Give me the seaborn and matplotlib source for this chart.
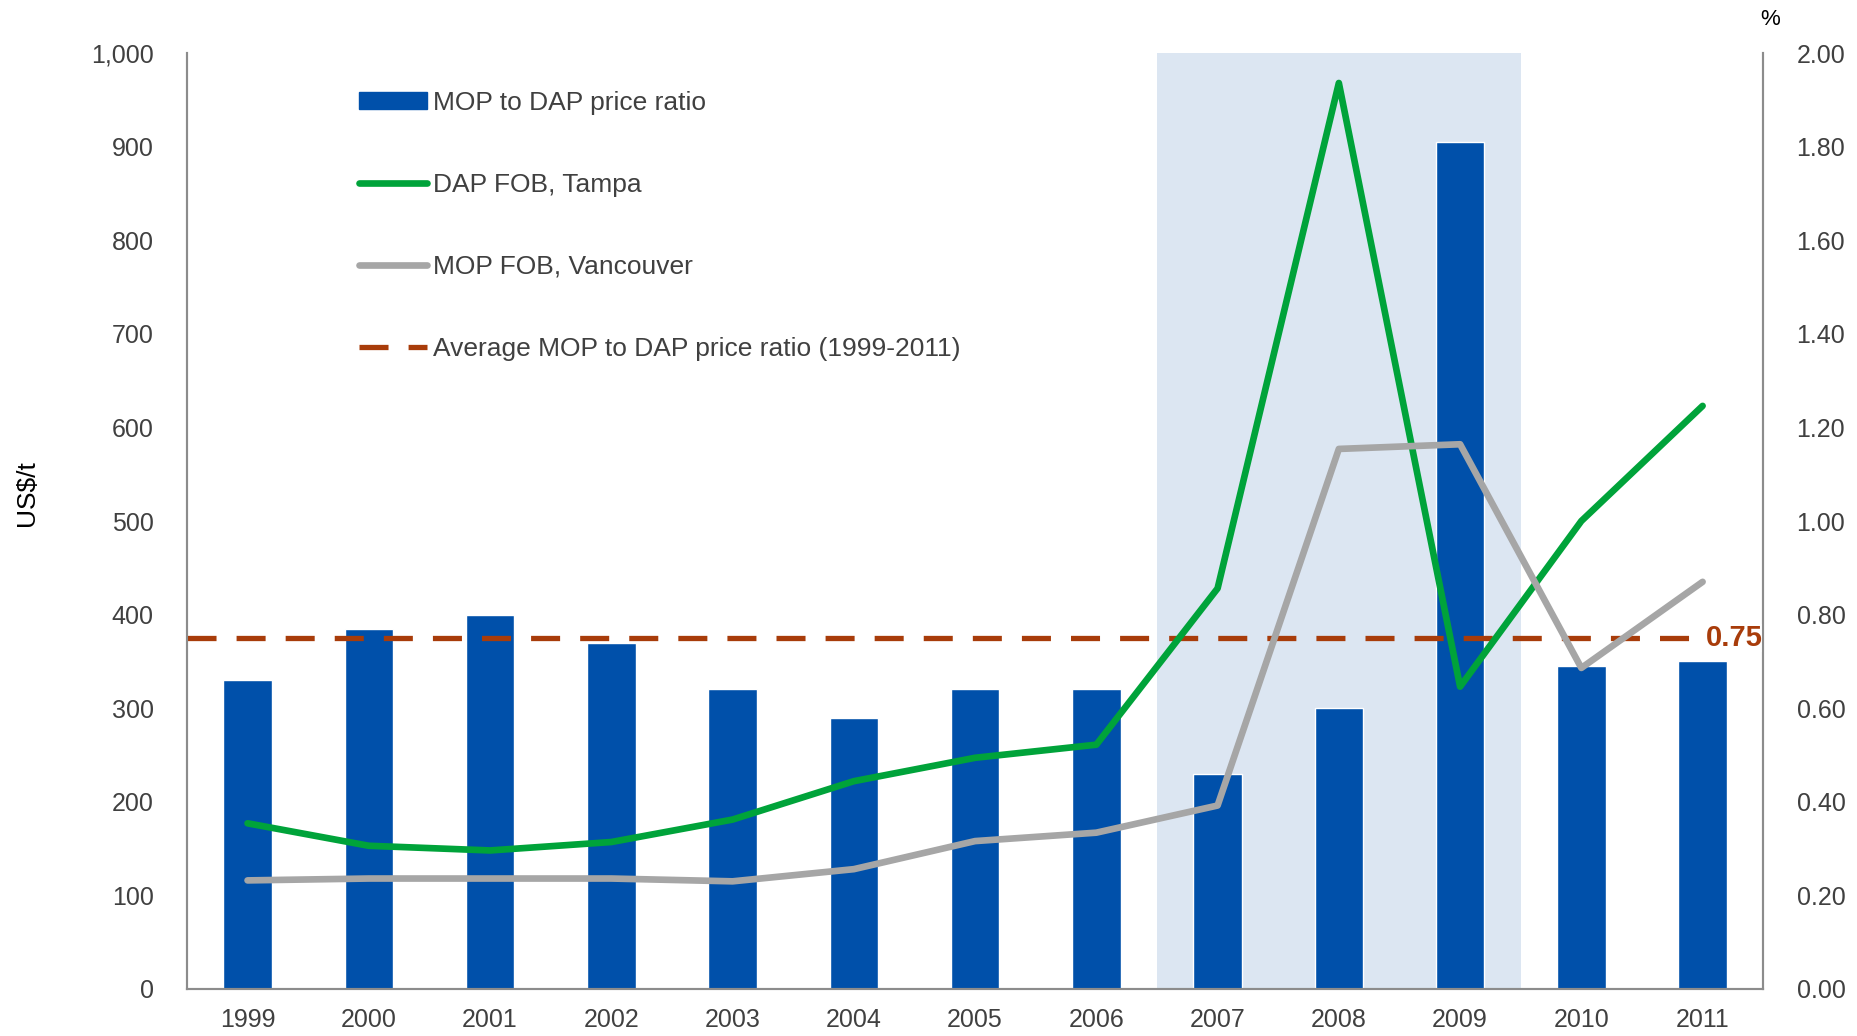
import numpy as np
import pandas as pd
import seaborn as sns
import matplotlib.pyplot as plt
from matplotlib.patches import Patch
from matplotlib.lines import Line2D

# data
years = ["1999", "2000", "2001", "2002", "2003", "2004", "2005",
         "2006", "2007", "2008", "2009", "2010", "2011"]
ratio = [0.66, 0.77, 0.80, 0.74, 0.64, 0.58, 0.64, 0.64, 0.46, 0.60, 1.81, 0.69, 0.70]
dap_tampa = [177, 153, 148, 157, 181, 222, 247, 261, 428, 968, 323, 500, 623]
mop_vancouver = [116, 118, 118, 118, 115, 128, 158, 167, 196, 577, 582, 343, 435]
avg_ratio = 0.75
shade_start, shade_end = "2007", "2009"

df = pd.DataFrame({"Year": years, "Ratio": ratio, "DAP": dap_tampa, "MOP": mop_vancouver})
df["pos"] = np.arange(len(df))

sns.set_style("white")
plt.rcParams["font.family"] = ["Liberation Sans", "DejaVu Sans"]

text_col = "#404040"
spine_col = "#8c8c8c"

fig = plt.figure(figsize=(18.58, 10.36), dpi=100)
# ax2 = bars on right axis, ax = lines on left axis (drawn on top)
ax2 = fig.add_axes([0.1006, 0.0454, 0.8484, 0.9034])
ax = ax2.twinx()
ax.yaxis.tick_left()
ax.yaxis.set_label_position("left")
ax2.yaxis.tick_right()
ax2.yaxis.set_label_position("right")
ax.set_zorder(ax2.get_zorder() + 1)
ax.patch.set_visible(False)

# shaded period
i0 = years.index(shade_start) - 0.5
i1 = years.index(shade_end) + 0.5
ax2.axvspan(i0, i1, color="#dce6f2", zorder=0, lw=0)

sns.barplot(data=df, x="Year", y="Ratio", ax=ax2, color="#0050aa",
            width=0.4, saturation=1, zorder=2)
ax2.axhline(avg_ratio, color="#a83c0a", lw=3.8, ls=(0, (5.5, 3.8)), zorder=3)
ax2.text(len(years) - 0.5, avg_ratio, f"{avg_ratio:.2f}", color="#a83c0a",
         fontsize=21, fontweight="bold", ha="right", va="center", zorder=4,
         bbox=dict(facecolor="white", edgecolor="none", pad=0))

sns.lineplot(data=df, x="pos", y="DAP", ax=ax, color="#00a33a", lw=4.8,
             solid_capstyle="round", zorder=5)
sns.lineplot(data=df, x="pos", y="MOP", ax=ax, color="#a6a6a6", lw=4.8,
             solid_capstyle="round", zorder=5)

ax.set_xlim(-0.5, len(years) - 0.5)
ax2.set_xlim(-0.5, len(years) - 0.5)
ax.set_ylim(0, 1000)
ax2.set_ylim(0, 2.0)
ax.set_yticks(range(0, 1001, 100))
ax.set_yticklabels([f"{v:,}" for v in range(0, 1001, 100)])
ax2.set_yticks(np.arange(0, 2.01, 0.2))
ax2.set_yticklabels([f"{v:.2f}" for v in np.arange(0, 2.01, 0.2)])
ax2.set_xticks(range(len(years)))
ax2.set_xticklabels(years)

ax.set_xlabel("")
ax2.set_xlabel("")
ax2.set_ylabel("")
ax.set_ylabel("US$/t", fontsize=19, color="black")
ax.yaxis.set_label_coords(-0.094, 0.53)

for a in (ax, ax2):
    a.spines["top"].set_visible(False)
    for s in ["left", "right", "bottom"]:
        a.spines[s].set_color(spine_col)
        a.spines[s].set_linewidth(1.5)
    a.tick_params(length=0, labelsize=18, colors=text_col)
ax.tick_params(axis="y", pad=24)
ax2.tick_params(axis="y", pad=24)
ax2.tick_params(axis="x", pad=14)
ax.tick_params(axis="x", labelbottom=False)

fig.text(0.9525, 0.981, "%", fontsize=16, color="black", ha="center", va="center")

handles = [
    Patch(color="#0050aa"),
    Line2D([], [], color="#00a33a", lw=4.8, solid_capstyle="round"),
    Line2D([], [], color="#a6a6a6", lw=4.8, solid_capstyle="round"),
    Line2D([], [], color="#a83c0a", lw=3.8, ls=(0, (5.5, 3.8))),
]
labels = ["MOP to DAP price ratio", "DAP FOB, Tampa", "MOP FOB, Vancouver",
          "Average MOP to DAP price ratio (1999-2011)"]
leg = ax.legend(handles, labels, loc="upper left", bbox_to_anchor=(0.094, 0.985),
                frameon=False, fontsize=19, labelspacing=2.2, handlelength=2.6,
                handletextpad=0.2, handleheight=0.6)
for t in leg.get_texts():
    t.set_color(text_col)

fig.savefig("out.png", dpi=100)
